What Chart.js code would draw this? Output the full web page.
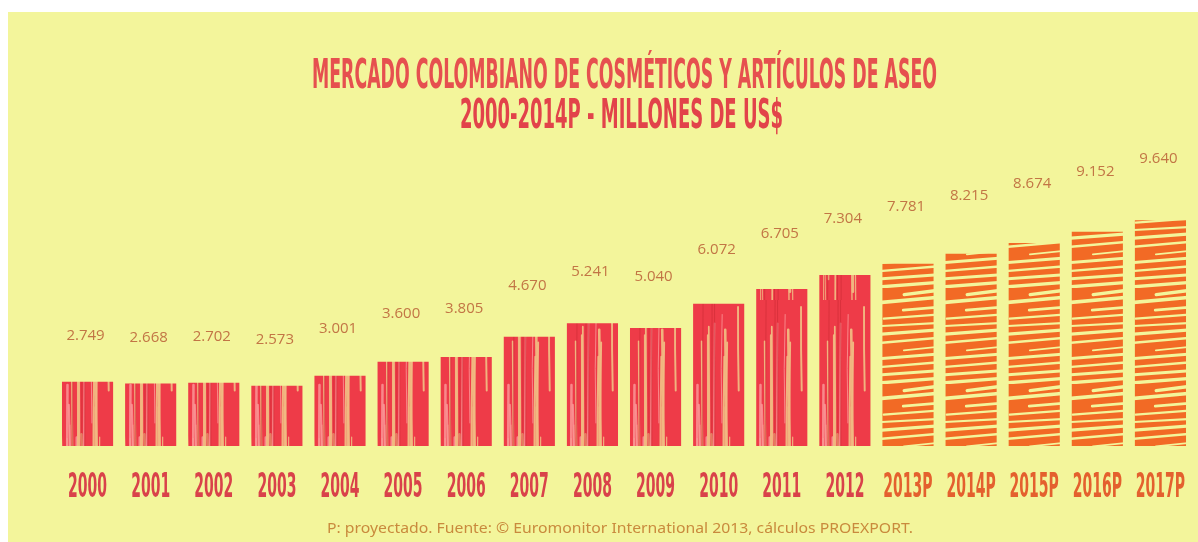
<!DOCTYPE html>
<html><head><meta charset="utf-8">
<script src="https://cdn.jsdelivr.net/npm/chart.js@4.4.1/dist/chart.umd.min.js"></script>
<style>html,body{margin:0;padding:0;background:#fff;overflow:hidden}#wrap{position:absolute;left:0;top:0;width:1198px;height:542px}</style>
</head><body><div id="wrap"><canvas id="c" width="1198" height="542"></canvas></div>
<script>
const categories = ['2000','2001','2002','2003','2004','2005','2006','2007','2008','2009','2010','2011','2012','2013P','2014P','2015P','2016P','2017P'];
const values = [2749,2668,2702,2573,3001,3600,3805,4670,5241,5040,6072,6705,7304,7781,8215,8674,9152,9640];
const projected = [false,false,false,false,false,false,false,false,false,false,false,false,false,true,true,true,true,true];
const titleLines = ['MERCADO COLOMBIANO DE COSMÉTICOS Y ARTÍCULOS DE ASEO','2000-2014P - MILLONES DE US$'];
const footnote = 'P: proyectado. Fuente: © Euromonitor International 2013, cálculos PROEXPORT.';

const BG = '#f3f59b';
const RED = '#ee3b48';
const ORANGE = '#f26a25';

let seed = 12345;
function rnd(){ seed = (seed * 16807) % 2147483647; return seed / 2147483647; }

function redPattern(ctx){
  const c = document.createElement('canvas'); c.width = 63; c.height = 300;
  const g = c.getContext('2d');
  g.fillStyle = RED; g.fillRect(0,0,63,300);
  g.lineCap = 'round';
  for(let k=0;k<18;k++){
    const x = 1 + rnd()*61;
    const y1 = rnd()*150, y2 = y1 + 80 + rnd()*200;
    g.strokeStyle = rnd() < 0.55 ? 'rgba(240,185,130,0.95)' : 'rgba(250,150,150,0.85)';
    g.lineWidth = 0.8 + rnd()*1.8;
    g.beginPath(); g.moveTo(x,y1); g.quadraticCurveTo(x+(rnd()-0.5)*5,(y1+y2)/2,x + (rnd()-0.5)*4, y2); g.stroke();
  }
  for(let k=0;k<6;k++){
    const x = rnd()*63;
    g.strokeStyle = 'rgba(200,40,50,0.55)'; g.lineWidth = 1;
    g.beginPath(); g.moveTo(x,0); g.lineTo(x+(rnd()-0.5)*3,300); g.stroke();
  }
  return ctx.createPattern(c,'repeat');
}
function orangePattern(ctx){
  const c = document.createElement('canvas'); c.width = 63; c.height = 96;
  const g = c.getContext('2d');
  g.fillStyle = ORANGE; g.fillRect(0,0,63,96);
  g.strokeStyle = BG; g.lineCap = 'round';
  for(let y=4;y<96;y+=8){
    const w = 1.8 + rnd()*2;
    const x1 = rnd()<0.6 ? -2 : rnd()*25;
    const x2 = rnd()<0.7 ? 65 : 35 + rnd()*28;
    g.lineWidth = w;
    g.beginPath(); g.moveTo(x1, y + 2 + rnd()); g.lineTo(x2, y - 1 - rnd()*2); g.stroke();
  }
  return ctx.createPattern(c,'repeat');
}

function fmt(v){ return String(v).replace(/\B(?=(\d{3})+(?!\d))/g,'.'); }

function drawFit(ctx, text, cx, baseline, font, color, targetW){
  ctx.save();
  ctx.font = font; ctx.fillStyle = color; ctx.textAlign = 'center'; ctx.textBaseline = 'alphabetic';
  const w = ctx.measureText(text).width;
  const s = targetW / w;
  ctx.translate(cx, baseline); ctx.scale(s, 1);
  ctx.fillText(text, 0, 0);
  ctx.restore();
}
function drawScaled(ctx, text, cx, baseline, font, color, s){
  ctx.save();
  ctx.font = font; ctx.fillStyle = color; ctx.textAlign = 'center'; ctx.textBaseline = 'alphabetic';
  ctx.translate(cx, baseline); ctx.scale(s, 1);
  ctx.fillText(text, 0, 0);
  ctx.restore();
}

const bgPlugin = {
  id:'bg',
  beforeDraw(chart){
    const ctx = chart.ctx;
    ctx.save();
    ctx.fillStyle = '#ffffff'; ctx.fillRect(0,0,chart.width,chart.height);
    ctx.fillStyle = BG; ctx.fillRect(8,12,chart.width-8,chart.height-12);
    ctx.restore();
  }
};
const textPlugin = {
  id:'texts',
  afterDraw(chart){
    const ctx = chart.ctx;
    const cond = "bold 40px 'Liberation Sans Narrow', 'DejaVu Sans Condensed', sans-serif";
    drawFit(ctx, titleLines[0], 624.5, 88, cond, '#e6504f', 625);
    drawFit(ctx, titleLines[1], 621.5, 128, cond, '#e2434a', 323);
    const xs = chart.scales.x;
    const yfont = "bold 33px 'Liberation Sans Narrow', 'DejaVu Sans Condensed', sans-serif";
    ctx.save(); ctx.font = yfont;
    const s = 39 / ctx.measureText('2000').width;
    ctx.restore();
    categories.forEach((lab,i)=>{
      const x = xs.getPixelForTick(i);
      drawScaled(ctx, lab, x, 497, yfont, projected[i] ? '#e4602e' : '#d9424a', s);
    });
    const meta = chart.getDatasetMeta(0);
    meta.data.forEach((bar,i)=>{
      const y = bar.y - (36 + values[i]*0.0022);
      drawScaled(ctx, fmt(values[i]), bar.x - 2, y, "15px 'Open Sans', sans-serif", '#c27545', 1);
    });
    drawFit(ctx, footnote, 620, 533, "14px 'Noto Sans', sans-serif", '#c98a3d', 586);
  }
};

const ctx = document.getElementById('c').getContext('2d');
const redP = redPattern(ctx), orP = orangePattern(ctx);
new Chart(ctx, {
  type:'bar',
  data:{
    labels: categories,
    datasets:[{
      data: values,
      backgroundColor: projected.map(p => p ? orP : redP),
      borderWidth: 0,
      barPercentage: 0.81,
      categoryPercentage: 1.0
    }]
  },
  options:{
    responsive:false,
    devicePixelRatio:1,
    animation:false,
    layout:{padding:{left:56, right:6, top:165, bottom:96}},
    plugins:{legend:{display:false}, tooltip:{enabled:false}, title:{display:false}},
    scales:{
      x:{display:false, grid:{display:false}},
      y:{display:false, min:0, max:12000}
    }
  },
  plugins:[bgPlugin, textPlugin]
});
</script>
</body></html>
